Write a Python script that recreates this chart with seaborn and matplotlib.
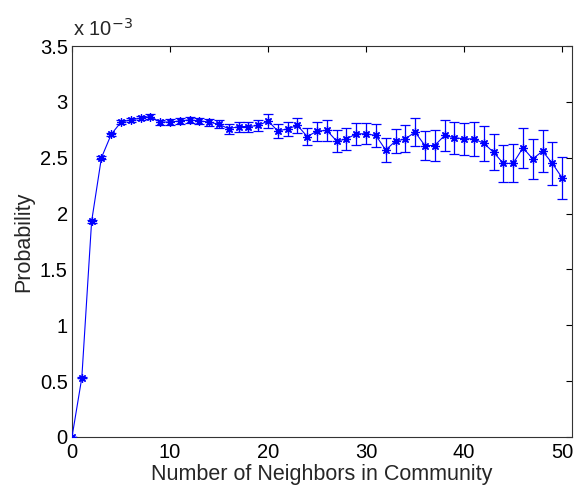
import matplotlib
matplotlib.use("Agg")
import matplotlib.pyplot as plt
import seaborn as sns
import numpy as np
import pandas as pd

neighbors = list(range(0, 51))
prob_e3 = [0, 0.53, 1.93, 2.50, 2.71, 2.82, 2.84, 2.855, 2.87, 2.82,
           2.82, 2.83, 2.84, 2.83, 2.82, 2.80, 2.76, 2.78, 2.78, 2.79,
           2.83, 2.74, 2.76, 2.79, 2.69, 2.74, 2.745, 2.65, 2.67, 2.715,
           2.715, 2.70, 2.57, 2.65, 2.67, 2.73, 2.61, 2.61, 2.70, 2.68,
           2.67, 2.67, 2.63, 2.55, 2.45, 2.45, 2.59, 2.49, 2.56, 2.45,
           2.32]
err_e3 = [0, 0.005, 0.01, 0.012, 0.015, 0.015, 0.018, 0.02, 0.02, 0.022,
          0.025, 0.027, 0.028, 0.03, 0.032, 0.035, 0.045, 0.045, 0.045, 0.05,
          0.06, 0.065, 0.065, 0.07, 0.078, 0.085, 0.09, 0.095, 0.097, 0.1,
          0.095, 0.1, 0.105, 0.11, 0.12, 0.125, 0.13, 0.135, 0.135, 0.145,
          0.145, 0.155, 0.157, 0.16, 0.163, 0.17, 0.18, 0.18, 0.185, 0.19,
          0.19]
yticks = [0, 0.5, 1, 1.5, 2, 2.5, 3, 3.5]
ytick_labels = ["0", "0.5", "1", "1.5", "2", "2.5", "3", "3.5"]
xticks = [0, 10, 20, 30, 40, 50]

df = pd.DataFrame({"n": neighbors,
                   "p": np.array(prob_e3) * 1e-3,
                   "e": np.array(err_e3) * 1e-3})

sns.set_style("white")
plt.rcParams["font.family"] = ["Liberation Sans", "DejaVu Sans"]

fig = plt.figure(figsize=(5.76, 4.91), dpi=100)
ax = fig.add_axes([0.125, 0.11, 0.868, 0.796])

blue = (0, 0, 1)
ax.errorbar(df["n"], df["p"], yerr=df["e"], fmt="none", ecolor=blue,
            elinewidth=0.9, capsize=3.6, capthick=0.9, zorder=2)
sns.lineplot(data=df, x="n", y="p", ax=ax, color=blue, marker=(8, 2, 0),
             markersize=6, markeredgecolor=blue, markeredgewidth=0.9,
             linewidth=0.8, zorder=3)

ax.set_xlim(0, 51)
ax.set_ylim(0, 3.5e-3)
ax.set_xticks(xticks)
ax.set_xticklabels([str(t) for t in xticks])
ax.set_yticks([t * 1e-3 for t in yticks])
ax.set_yticklabels(ytick_labels)
ax.tick_params(direction="in", top=True, right=True, length=4, width=0.8,
               labelsize=14.5, colors="black")
ax.tick_params(axis="x", pad=4)
ax.tick_params(axis="y", pad=3)
for s in ax.spines.values():
    s.set_color("#333333")
    s.set_linewidth(0.8)
ax.set_xlabel("Number of Neighbors in Community", fontsize=15.5, labelpad=2)
ax.set_ylabel("Probability", fontsize=15.5, labelpad=4)
ax.text(0.002, 1.015, r"x 10$^{-3}$", transform=ax.transAxes, fontsize=14.5,
        ha="left", va="bottom")

fig.savefig("out.png", dpi=100)
